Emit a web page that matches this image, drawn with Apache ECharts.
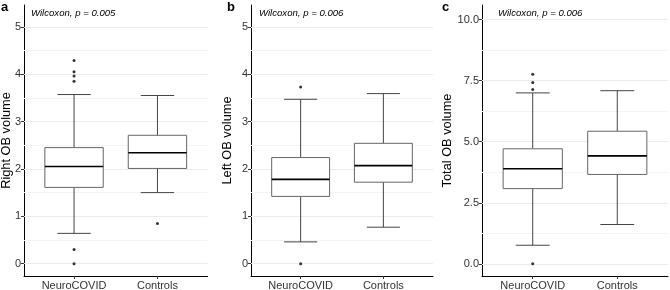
<!DOCTYPE html>
<html>
<head>
<meta charset="utf-8">
<script src="https://cdn.jsdelivr.net/npm/echarts@6/dist/echarts.min.js"></script>
<style>
  html, body { margin: 0; padding: 0; background: #fff; }
  #chart { width: 670px; height: 290px; }
</style>
</head>
<body>
<div id="chart"></div>
<script>
  // groups on the x axis
  var groups = ['NeuroCOVID', 'Controls']

  // box stats per group: [lower whisker, Q1, median, Q3, upper whisker]
  var rightBox = [[0.64, 1.61, 2.05, 2.45, 3.57], [1.50, 2.01, 2.34, 2.71, 3.55]]
  var leftBox = [[0.46, 1.42, 1.78, 2.24, 3.47], [0.77, 1.72, 2.07, 2.54, 3.59]]
  var totalBox = [[0.76, 3.08, 3.89, 4.71, 7.00], [1.61, 3.66, 4.42, 5.43, 7.09]]

  // outliers per group
  var rightOut = [[4.29, 4.05, 3.96, 3.85, 0.30, 0.00], [0.85]]
  var leftOut = [[3.73, 0.00], []]
  var totalOut = [[7.76, 7.43, 7.14, 0.00], []]

  // y ticks
  var smallTicks = [0, 1, 2, 3, 4, 5]
  var smallMinor = [0.5, 1.5, 2.5, 3.5, 4.5]
  var totalTicks = [0, 2.5, 5, 7.5, 10]
  var totalMinor = [1.25, 3.75, 6.25, 8.75]

  var yTitles = ['Right OB volume', 'Left OB volume', 'Total OB volume']
  var pLabels = ['Wilcoxon, p = 0.005', 'Wilcoxon, p = 0.006', 'Wilcoxon, p = 0.006']
  var letters = ['a', 'b', 'c']

  var font = "'Liberation Sans', Arial, sans-serif"

  var panels = [
    {left: 24, width: 183.5, min: -0.26, max: 5.46, ticks: smallTicks, minor: smallMinor, box: rightBox, out: rightOut, gap: 11, dec: 0, letterX: 1, pX: 31},
    {left: 251, width: 182, min: -0.26, max: 5.46, ticks: smallTicks, minor: smallMinor, box: leftBox, out: leftOut, gap: 17, dec: 0, letterX: 227, pX: 259},
    {left: 482, width: 186, min: -0.5, max: 10.6, ticks: totalTicks, minor: totalMinor, box: totalBox, out: totalOut, gap: 28, dec: 1, letterX: 442, pX: 498}
  ]

  function renderBox (params, api) {
    var x = api.value(0)
    var lo = api.coord([x, api.value(1)])
    var q1 = api.coord([x, api.value(2)])
    var md = api.coord([x, api.value(3)])
    var q3 = api.coord([x, api.value(4)])
    var hi = api.coord([x, api.value(5)])
    var halfBox = api.size([0.35, 0])[0]
    var halfCap = api.size([0.2, 0])[0]
    var cx = lo[0]
    var wh = {stroke: '#444', lineWidth: 1}
    return {
      type: 'group',
      children: [
        {type: 'line', shape: {x1: cx, y1: hi[1], x2: cx, y2: q3[1]}, style: wh},
        {type: 'line', shape: {x1: cx, y1: q1[1], x2: cx, y2: lo[1]}, style: wh},
        {type: 'line', shape: {x1: cx - halfCap, y1: hi[1], x2: cx + halfCap, y2: hi[1]}, style: wh},
        {type: 'line', shape: {x1: cx - halfCap, y1: lo[1], x2: cx + halfCap, y2: lo[1]}, style: wh},
        {type: 'rect', shape: {x: cx - halfBox, y: q3[1], width: halfBox * 2, height: q1[1] - q3[1]}, style: {stroke: '#666', lineWidth: 1, fill: '#fff'}},
        {type: 'line', shape: {x1: cx - halfBox, y1: md[1], x2: cx + halfBox, y2: md[1]}, style: {stroke: '#000', lineWidth: 1.6}}
      ]
    }
  }

  var grid = []
  var xAxis = []
  var yAxis = []
  var series = []
  var title = []

  panels.forEach(function (p, i) {
    grid.push({left: p.left, top: 5, width: p.width, height: 271, containLabel: false, outerBoundsMode: 'none'})
    xAxis.push({
      type: 'value',
      gridIndex: i,
      min: -0.6,
      max: 1.6,
      splitLine: {show: false},
      axisLine: {onZero: false, lineStyle: {color: '#000', width: 1}},
      axisTick: {show: true, length: 3, customValues: [0, 1], lineStyle: {color: '#333'}},
      axisLabel: {
        customValues: [0, 1],
        margin: 4,
        color: '#333',
        fontSize: 11,
        fontFamily: font,
        formatter: function (v) { return groups[Math.round(v)] }
      }
    })
    yAxis.push({
      type: 'value',
      gridIndex: i,
      min: p.min,
      max: p.max,
      name: yTitles[i],
      nameLocation: 'middle',
      nameGap: p.gap,
      nameMoveOverlap: false,
      nameTextStyle: {color: '#000', fontSize: 12.8, fontFamily: font},
      splitLine: {show: false},
      axisLine: {show: true, onZero: false, lineStyle: {color: '#000', width: 1}},
      axisTick: {show: true, length: 3, customValues: p.ticks, lineStyle: {color: '#333'}},
      axisLabel: {
        customValues: p.ticks,
        margin: 3,
        color: '#333',
        fontSize: 11,
        fontFamily: font,
        formatter: function (v) { return v.toFixed(p.dec) }
      }
    })

    var gridLines = p.ticks.map(function (v) {
      return {yAxis: v, lineStyle: {color: '#ebebeb', width: 1, type: 'solid'}}
    }).concat(p.minor.map(function (v) {
      return {yAxis: v, lineStyle: {color: '#f4f4f4', width: 1, type: 'solid'}}
    }))

    series.push({
      type: 'custom',
      xAxisIndex: i,
      yAxisIndex: i,
      renderItem: renderBox,
      encode: {x: 0, y: [1, 2, 3, 4, 5]},
      data: p.box.map(function (b, g) { return [g].concat(b) }),
      z: 3,
      markLine: {
        silent: true,
        symbol: 'none',
        label: {show: false},
        animation: false,
        z: 1,
        data: gridLines
      }
    })

    var pts = []
    p.out.forEach(function (arr, g) {
      arr.forEach(function (v) { pts.push([g, v]) })
    })
    series.push({
      type: 'scatter',
      xAxisIndex: i,
      yAxisIndex: i,
      symbolSize: 3,
      itemStyle: {color: '#000'},
      data: pts,
      z: 4
    })

    title.push({
      text: letters[i],
      left: p.letterX,
      top: 1,
      padding: 0,
      textStyle: {fontSize: 13, fontWeight: 'bold', color: '#000', fontFamily: font}
    })
    title.push({
      text: pLabels[i],
      left: p.pX,
      top: 8,
      padding: 0,
      textStyle: {fontSize: 9.6, fontStyle: 'italic', fontWeight: 'normal', color: '#000', fontFamily: font}
    })
  })

  var myChart = echarts.init(document.getElementById('chart'))
  myChart.setOption({
    animation: false,
    backgroundColor: '#fff',
    title: title,
    grid: grid,
    xAxis: xAxis,
    yAxis: yAxis,
    series: series
  })
</script>
</body>
</html>
